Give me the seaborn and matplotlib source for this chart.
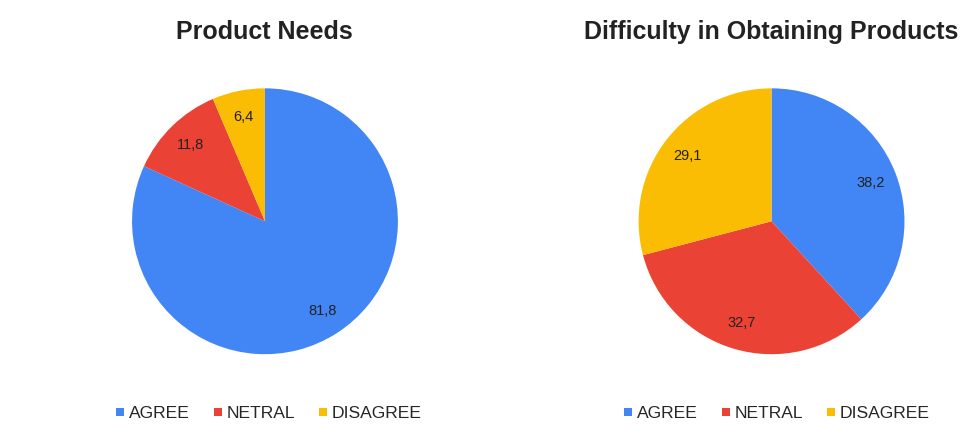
import numpy as np
import seaborn as sb
import matplotlib.pyplot as plt
from matplotlib.lines import Line2D

sb.set_theme(style="white")
plt.rcParams['font.family'] = ['Liberation Sans', 'DejaVu Sans']

categories = ['AGREE', 'NETRAL', 'DISAGREE']
needs = [81.8, 11.8, 6.4]
difficulty = [38.2, 32.7, 29.1]
titles = ['Product Needs', 'Difficulty in Obtaining Products']
colors = ['#4285F4', '#EA4335', '#FBBC04']

fig = plt.figure(figsize=(9.66, 4.33), dpi=100)

#axes positions so the pies land where they are in the picture
axes_pos = [[0.1366, 0.182, 0.2754, 0.614], [0.661, 0.182, 0.2754, 0.614]]
title_x = [0.274, 0.798]
legend_x = [0.277, 0.803]

for i, values in enumerate([needs, difficulty]):
    ax = fig.add_axes(axes_pos[i])
    wedges, texts = ax.pie(values, colors=colors, startangle=90, counterclock=False,
                           wedgeprops=dict(linewidth=0))
    # value labels with comma decimals
    for w, v in zip(wedges, values):
        ang = np.deg2rad((w.theta1 + w.theta2) / 2)
        d = 0.8
        ax.text(d * np.cos(ang), d * np.sin(ang), f"{v:.1f}".replace('.', ','),
                ha='center', va='center', fontsize=10.5, color='#222222')
    ax.set_xlim(-1, 1)
    ax.set_ylim(-1, 1)
    ax.set_aspect('equal')
    for w in wedges:
        w.set_clip_on(False)
    fig.text(title_x[i], 0.925, titles[i], ha='center', va='center',
             fontsize=18, fontweight='bold', color='#222222')
    handles = [Line2D([], [], marker='s', linestyle='', markersize=6,
                      markerfacecolor=c, markeredgewidth=0) for c in colors]
    fig.legend(handles, categories, loc='center', bbox_to_anchor=(legend_x[i], 0.046),
               ncol=3, frameon=False, fontsize=12.6, handletextpad=0.1,
               columnspacing=1.2, handlelength=0.8)

plt.savefig('out.png', dpi=100)
